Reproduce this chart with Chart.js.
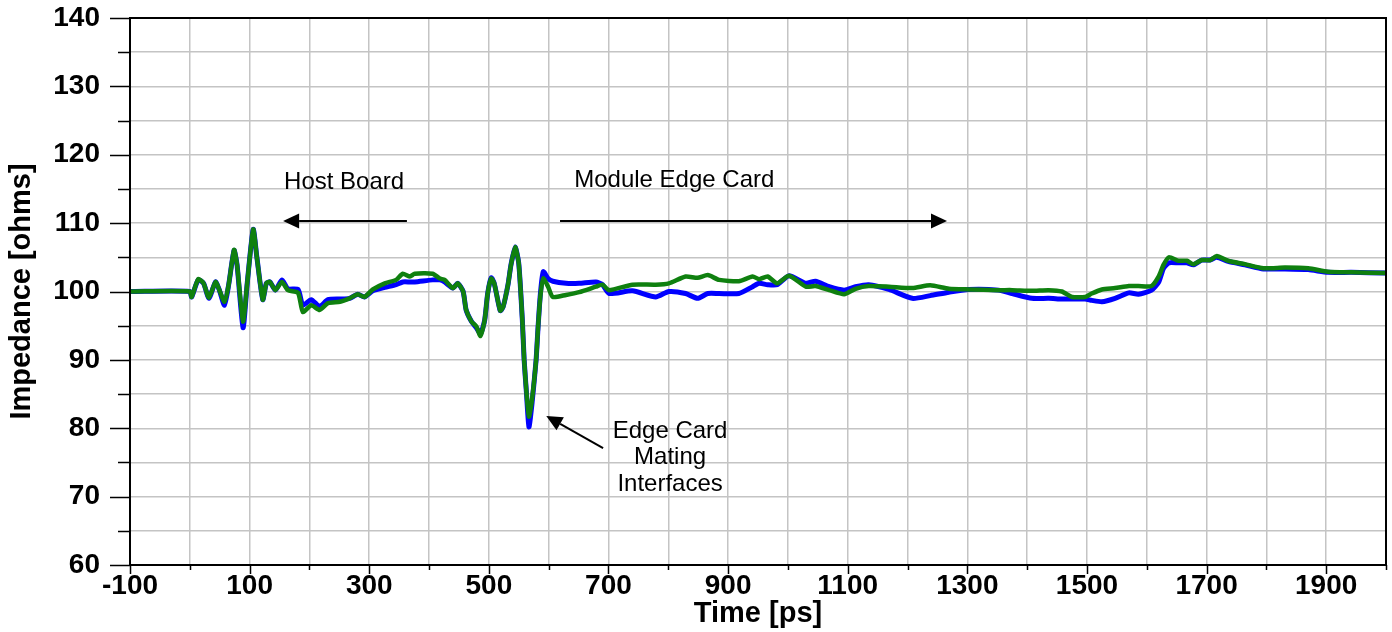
<!DOCTYPE html>
<html>
<head>
<meta charset="utf-8">
<script src="https://cdn.jsdelivr.net/npm/chart.js@4/dist/chart.umd.min.js"></script>
<style>
  body { margin: 0; background: #fff; }
  #wrap { width: 1392px; height: 632px; }
</style>
</head>
<body>
<div id="wrap"><canvas id="myChart"></canvas></div>
<script>
// time axis [ps]
const times = [
  -100, 0, 3, 14, 23, 32, 43, 49, 58, 65, 74, 79, 89, 96, 106, 112, 122, 128, 134, 143,
  154, 164, 181, 189, 203, 217, 231, 251, 267, 281, 292, 306, 326, 345, 356, 368, 376, 406, 418, 426,
  440, 448, 457, 462, 471, 479, 486, 493, 498, 504, 509, 519, 524, 532, 537, 544, 550, 556, 559, 563,
  567, 572, 579, 582, 586, 591, 599, 607, 629, 651, 679, 690, 701, 740, 779, 801, 829, 849, 866, 885,
  918, 941, 952, 966, 982, 1002, 1030, 1046, 1069, 1094, 1113, 1135, 1169, 1208, 1238, 1269, 1302, 1352, 1375, 1408,
  1436, 1458, 1475, 1497, 1508, 1525, 1547, 1570, 1586, 1608, 1620, 1628, 1637, 1653, 1667, 1678, 1692, 1706, 1717, 1736,
  1764, 1795, 1831, 1870, 1903, 1942, 2000
];
// impedance [ohms], blue trace
const blueZ = [
  100, 100, 99.2, 101.7, 101.2, 99, 101.4, 100.3, 98, 101, 106, 103.9, 94.7, 101.2, 109.1, 105.1, 98.8, 101.2, 101.4, 100.2,
  101.7, 100.4, 100.3, 98, 98.8, 97.8, 98.8, 98.9, 99, 99.6, 99.2, 100.1, 100.6, 101, 101.4, 101.4, 101.4, 101.7, 101.7, 101.4,
  100.5, 101.2, 100, 97.3, 95.6, 94.7, 93.8, 95.8, 99.7, 102, 101.2, 97.2, 97.8, 101, 103.9, 106.5, 104.1, 95.8, 90, 85,
  80.2, 83.5, 90, 94.4, 99.5, 102.9, 101.9, 101.5, 101.2, 101.2, 101.4, 101, 99.7, 100.1, 99.2, 100, 99.7, 99, 99.7, 99.7,
  99.7, 100.7, 101.2, 101, 101, 102.3, 101.2, 101.5, 100.7, 100.2, 100.7, 101, 100.3, 99, 99.4, 99.9, 100.3, 100.2, 99.7, 99,
  99, 98.9, 98.9, 98.9, 98.7, 98.5, 99, 99.8, 99.6, 100.2, 101.4, 103.4, 104.2, 104.2, 104.2, 103.9, 104.6, 104.6, 105, 104.4,
  103.9, 103.3, 103.3, 103.2, 102.8, 102.8, 102.7
];
// impedance [ohms], green trace
const greenZ = [
  100, 100, 99.2, 101.8, 101.2, 99.1, 101.4, 100.3, 98.5, 101, 106.1, 103.9, 95.6, 101.2, 109.1, 105.1, 98.8, 101.2, 101.4, 100.2,
  101.4, 100.2, 99.8, 97, 98, 97.3, 98.3, 98.5, 99, 99.6, 99.2, 100.3, 101.2, 101.7, 102.6, 102.2, 102.6, 102.6, 101.9, 101.7,
  100.5, 101.2, 100, 97.3, 95.6, 94.9, 93.5, 95.8, 99.7, 101.9, 101.2, 97.2, 97.8, 101, 103.9, 106.5, 104.1, 95.8, 90, 85.1,
  81.7, 84.1, 90, 94.4, 99.2, 101.9, 100.7, 99.2, 99.5, 99.9, 100.7, 101, 100.2, 101, 101, 101.2, 102.2, 102, 102.4, 101.7,
  101.5, 102.2, 101.8, 102.2, 101.2, 102.3, 100.7, 100.8, 100.2, 99.6, 100.4, 100.8, 100.7, 100.5, 100.9, 100.4, 100.3, 100.2, 100.2, 100.1,
  100.2, 100, 99.2, 99.2, 99.7, 100.3, 100.5, 100.8, 100.8, 100.8, 102.2, 103.9, 105, 104.5, 104.5, 104, 104.6, 104.6, 105.2, 104.5,
  104, 103.4, 103.5, 103.4, 102.9, 102.8, 102.7
];

const xTitle = 'Time [ps]';
const yTitle = 'Impedance [ohms]';

// annotation texts, placed in data units
const notes = [
  { lines: ['Host Board'], x: 258, y: 116.0 },
  { lines: ['Module Edge Card'], x: 810, y: 116.3 },
  { lines: ['Edge Card', 'Mating', 'Interfaces'], x: 803, y: 79.6 }
];
const arrows = [
  { from: [363, 110.3], to: [156, 110.3] },
  { from: [619, 110.3], to: [1266, 110.3] },
  { from: [691, 77.1], to: [596, 81.8] }
];

const toPts = (xs, ys) => xs.map((x, i) => ({ x: x, y: ys[i] }));

const frameAndTicks = {
  id: 'frameAndTicks',
  afterDraw(chart) {
    const c = chart.ctx, a = chart.chartArea;
    const xs = chart.scales.x, ys = chart.scales.y;
    c.save();
    c.strokeStyle = '#000';
    c.lineWidth = 2;
    c.strokeRect(a.left, a.top, a.right - a.left, a.bottom - a.top);
    c.lineWidth = 1.5;
    c.beginPath();
    for (let v = 60; v <= 140; v += 5) {
      const py = Math.round(ys.getPixelForValue(v)) + 0.5;
      c.moveTo(a.left - (v % 10 === 0 ? 20 : 12), py);
      c.lineTo(a.left, py);
    }
    for (let v = -100; v <= 2000; v += 100) {
      const px = Math.round(xs.getPixelForValue(v)) + 0.5;
      c.moveTo(px, a.bottom);
      c.lineTo(px, a.bottom + ((v + 100) % 200 === 0 ? 9 : 5));
    }
    c.stroke();

    // annotations
    c.fillStyle = '#000';
    c.font = '24px "Liberation Sans", Arial, sans-serif';
    c.textAlign = 'center';
    c.textBaseline = 'middle';
    notes.forEach(n => {
      const px = xs.getPixelForValue(n.x);
      const py = ys.getPixelForValue(n.y);
      n.lines.forEach((t, i) => c.fillText(t, px, py + i * 26.5));
    });
    arrows.forEach(ar => {
      const x1 = xs.getPixelForValue(ar.from[0]), y1 = ys.getPixelForValue(ar.from[1]);
      const x2 = xs.getPixelForValue(ar.to[0]), y2 = ys.getPixelForValue(ar.to[1]);
      const ang = Math.atan2(y2 - y1, x2 - x1);
      const hl = 16, hw = 7.5;
      const bx = x2 - hl * Math.cos(ang), by = y2 - hl * Math.sin(ang);
      c.lineWidth = 2;
      c.beginPath();
      c.moveTo(x1, y1);
      c.lineTo(bx, by);
      c.stroke();
      c.beginPath();
      c.moveTo(x2, y2);
      c.lineTo(bx + hw * Math.sin(ang), by - hw * Math.cos(ang));
      c.lineTo(bx - hw * Math.sin(ang), by + hw * Math.cos(ang));
      c.closePath();
      c.fill();
    });
    c.restore();
  }
};

const tickFont = { family: '"Liberation Sans", Arial, sans-serif', size: 28, weight: 'bold' };
const titleFont = { family: '"Liberation Sans", Arial, sans-serif', size: 29, weight: 'bold' };

new Chart(document.getElementById('myChart'), {
  type: 'line',
  data: {
    datasets: [{
      label: 'green',
      data: toPts(times, greenZ),
      borderColor: '#0f800f',
      borderWidth: 4.5,
      pointRadius: 0,
      tension: 0.2,
      order: 0
    }, {
      label: 'blue',
      data: toPts(times, blueZ),
      borderColor: '#0000ff',
      borderWidth: 5,
      pointRadius: 0,
      tension: 0.2,
      order: 1
    }]
  },
  options: {
    responsive: true,
    maintainAspectRatio: false,
    animation: false,
    layout: { padding: { top: 18, right: 6, left: 0, bottom: 0 } },
    plugins: { legend: { display: false }, tooltip: { enabled: false } },
    scales: {
      x: {
        type: 'linear',
        min: -100,
        max: 2000,
        afterFit: s => { s.height = 67; s.paddingLeft = 0; s.paddingRight = 0; },
        border: { display: false },
        grid: { color: '#c4c4c4', lineWidth: 1.5, drawTicks: false },
        ticks: {
          stepSize: 100,
          autoSkip: false,
          maxRotation: 0,
          padding: 4,
          color: '#000',
          font: tickFont,
          callback: v => ((v + 100) % 200 === 0 ? String(v) : '')
        },
        title: { display: true, text: xTitle, color: '#000', font: titleFont, padding: { top: 0, bottom: 1 } }
      },
      y: {
        min: 60,
        max: 140,
        afterFit: s => { s.width = 130; s.paddingTop = 0; s.paddingBottom = 0; },
        border: { display: false },
        grid: { color: '#c4c4c4', lineWidth: 1.5, drawTicks: false },
        ticks: {
          stepSize: 5,
          autoSkip: false,
          padding: 30,
          color: '#000',
          font: tickFont,
          callback: v => (v % 10 === 0 ? String(v) : '')
        },
        title: { display: true, text: yTitle, color: '#000', font: titleFont, padding: { top: 5, bottom: 0 } }
      }
    }
  },
  plugins: [frameAndTicks]
});
</script>
</body>
</html>
